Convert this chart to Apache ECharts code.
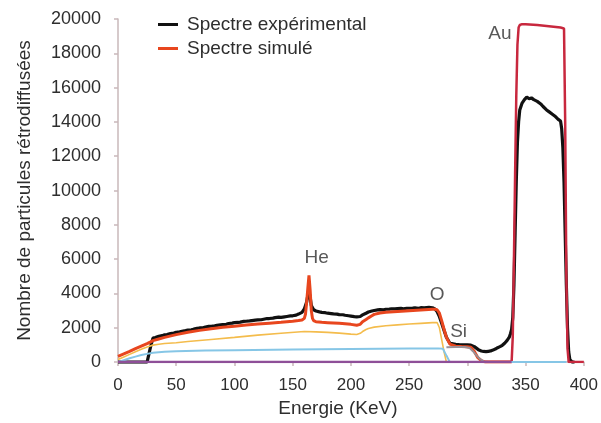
<!DOCTYPE html>
<html>
<head>
<meta charset="utf-8">
<script src="https://cdn.jsdelivr.net/npm/echarts@6/dist/echarts.min.js"></script>
<style>html,body{margin:0;padding:0;background:#fff}#c{width:601px;height:423px}</style>
</head>
<body>
<div id="c"></div>
<script>
// ---- Data ----
var xTicks = [0, 50, 100, 150, 200, 250, 300, 350, 400];
var yTicks = [0, 2000, 4000, 6000, 8000, 10000, 12000, 14000, 16000, 18000, 20000];

var expEnergy = [0,5,10,15,20,25,26,28,30,32,35,38,40,42,45,48,50,53,55,58,60,63,65,68,70,73,75,78,80,83,85,88,90,93,95,98,100,103,105,108,110,113,115,118,120,123,125,128,130,133,135,138,140,143,145,148,150,153,155,158,160,162,163,164,165,166,168,170,173,175,178,180,183,185,188,190,193,195,198,200,203,205,208,210,213,215,218,220,223,225,228,230,233,235,238,240,243,245,248,250,253,255,258,260,263,265,267,270,272,274,276,278,280,282,285,288,290,293,295,298,300,303,306,308,310,312,314,316,318,320,322,324,326,328,330,332,334,336,337,338,339,340,341,342,343,344,345,347,349,351,353,355,357,360,363,365,368,370,373,375,378,380,381,382,383,384,385,386,387,388,390,392];
var expCounts = [0,0,0,0,0,0,300,900,1400,1430,1500,1540,1590,1610,1660,1690,1740,1760,1800,1840,1870,1880,1920,1970,1990,2000,2040,2080,2090,2110,2140,2170,2190,2200,2250,2270,2300,2310,2330,2370,2380,2400,2420,2450,2460,2470,2500,2540,2540,2560,2590,2620,2610,2640,2660,2690,2700,2740,2800,2900,3100,3500,3900,4100,3800,3300,3050,2980,2930,2900,2880,2850,2830,2810,2800,2770,2760,2730,2700,2680,2650,2640,2660,2750,2850,2920,2980,3010,3040,3060,3050,3080,3090,3110,3100,3120,3130,3110,3140,3140,3150,3160,3140,3170,3160,3180,3190,3170,3100,2950,2650,2250,1850,1450,1100,1060,1040,1020,1010,1000,1000,990,900,800,700,650,620,610,630,650,700,760,840,900,980,1100,1250,1450,1650,1900,2600,4500,7500,10500,12800,14000,14700,15100,15300,15450,15350,15400,15300,15200,15050,14900,14700,14600,14450,14350,14150,14050,13600,12500,10500,7500,4500,2000,600,150,0,0];

var simEnergy = [0,5,10,15,20,25,28,30,35,40,50,60,70,80,90,100,110,120,130,140,150,155,158,160,161,162,163,164,165,166,167,168,170,175,180,190,200,205,208,210,213,215,218,220,225,230,240,250,260,270,272,274,276,278,280,282,285,290,295,300,303,306,309,312,315,320,338];
var simCounts = [340,480,620,780,930,1080,1180,1250,1350,1440,1600,1740,1850,1950,2030,2090,2160,2220,2270,2320,2380,2420,2450,2550,2800,3500,4300,5050,4200,3000,2550,2420,2350,2320,2300,2260,2200,2150,2200,2350,2480,2580,2700,2780,2860,2900,2950,3000,3040,3080,3080,3050,2850,2400,1900,1450,1050,930,910,900,870,620,260,80,10,0,0];

var auEnergy = [315,338,339,340,341,342,343,344,345,347,350,360,370,380,383,384,385,386,387,390,400];
var auCounts = [0,0,1500,6000,11000,15500,18500,19500,19650,19700,19700,19650,19580,19500,19450,14000,5000,800,0,0,0];

var yellowEnergy = [0,5,10,15,20,25,30,35,40,50,60,80,100,120,140,160,170,180,190,200,205,208,210,213,215,220,230,240,250,260,270,274,276,278,280,282];
var yellowCounts = [150,300,450,600,750,880,990,1040,1080,1130,1200,1320,1440,1570,1680,1780,1760,1730,1690,1630,1610,1680,1780,1900,1960,2040,2120,2170,2220,2260,2300,2310,2000,1300,600,0];

var blueEnergy = [0,5,10,15,20,25,30,40,50,75,100,150,200,250,275,279,282,285,385];
var blueCounts = [0,110,220,320,410,480,540,600,630,670,690,730,760,790,800,780,380,0,0];

var grayEnergy = [282,290,298,302,305,308,311,314,318];
var grayCounts = [860,880,880,820,620,380,170,40,0];

var purpleEnergy = [0,338];
var purpleCounts = [0,0];

var labelNames = ['Au', 'He', 'O', 'Si'];
var labelEnergy = [328, 170.5, 274, 292.5];
var labelCounts = [19150, 6100, 3920, 1790];

// ---- Build ----
function pairs(xs, ys) { return xs.map(function (x, i) { return [x, ys[i]]; }); }

var FONT = 'Liberation Sans, Arial, Helvetica, sans-serif';
var TXT = '#2e2e2e';
var AX = '#c9b8ba';

var chart = echarts.init(document.getElementById('c'), null, {renderer: 'canvas'});
chart.setOption({
  animation: false,
  backgroundColor: '#ffffff',
  textStyle: {fontFamily: FONT},
  grid: {left: 118, right: 14, top: 19, bottom: 58, containLabel: false},
  legend: {
    orient: 'vertical', left: 153, top: 10,
    data: ['Spectre expérimental', 'Spectre simulé'],
    icon: 'rect', itemWidth: 20, itemHeight: 3, itemGap: 5,
    textStyle: {fontFamily: FONT, fontSize: 19, color: TXT, padding: [0, 0, 0, 4]},
    selectedMode: false
  },
  xAxis: {
    type: 'value', min: xTicks[0], max: xTicks[xTicks.length - 1], interval: xTicks[1] - xTicks[0],
    name: 'Energie (KeV)', nameLocation: 'middle', nameGap: 34,
    nameTextStyle: {fontFamily: FONT, fontSize: 19, color: TXT, padding: [0, 26, 0, 0]},
    axisLine: {show: true, lineStyle: {color: AX, width: 1.5}},
    axisTick: {show: true, length: 4, lineStyle: {color: AX, width: 1.5}},
    axisLabel: {fontFamily: FONT, fontSize: 17, color: TXT, margin: 15, formatter: function (v) { return String(v); }},
    splitLine: {show: false}
  },
  yAxis: {
    type: 'value', min: yTicks[0], max: yTicks[yTicks.length - 1], interval: yTicks[1] - yTicks[0],
    name: 'Nombre de particules rétrodiffusées', nameLocation: 'middle', nameGap: 84,
    nameTextStyle: {fontFamily: FONT, fontSize: 19, color: TXT},
    axisLine: {show: true, lineStyle: {color: AX, width: 1.5}},
    axisTick: {show: true, length: 4, lineStyle: {color: AX, width: 1.5}},
    axisLabel: {fontFamily: FONT, fontSize: 18, color: TXT, margin: 17, formatter: function (v) { return String(v); }},
    splitLine: {show: false}
  },
  series: [
    {name: 'Spectre expérimental', type: 'line', data: pairs(expEnergy, expCounts), showSymbol: false,
      lineStyle: {color: '#111111', width: 3.2}, itemStyle: {color: '#111111'}, z: 2},
    {name: 'Spectre simulé', type: 'line', data: pairs(simEnergy, simCounts), showSymbol: false,
      lineStyle: {color: '#e8461e', width: 3}, itemStyle: {color: '#e8461e'}, z: 3},
    {name: 'Composante jaune', type: 'line', data: pairs(yellowEnergy, yellowCounts), showSymbol: false,
      lineStyle: {color: '#f4bc4c', width: 1.6}, z: 4},
    {name: 'Si', type: 'line', data: pairs(grayEnergy, grayCounts), showSymbol: false,
      lineStyle: {color: '#9a9096', width: 2}, z: 4},
    {name: 'Au', type: 'line', data: pairs(auEnergy, auCounts), showSymbol: false,
      lineStyle: {color: '#c8283e', width: 2.5}, z: 5},
    {name: 'Composante bleue', type: 'line', data: pairs(blueEnergy, blueCounts), showSymbol: false,
      lineStyle: {color: '#86c6e6', width: 2}, z: 6},
    {name: 'Composante violette', type: 'line', data: pairs(purpleEnergy, purpleCounts), showSymbol: false,
      lineStyle: {color: '#8e4f98', width: 2.5}, z: 7},
    {name: 'Labels', type: 'scatter', symbolSize: 1, itemStyle: {color: 'rgba(0,0,0,0)'},
      data: labelNames.map(function (n, i) { return {name: n, value: [labelEnergy[i], labelCounts[i]]}; }),
      label: {show: true, position: 'inside', formatter: '{b}', fontFamily: FONT, fontSize: 19, color: TXT},
      silent: true, z: 8}
  ]
});
</script>
</body>
</html>
